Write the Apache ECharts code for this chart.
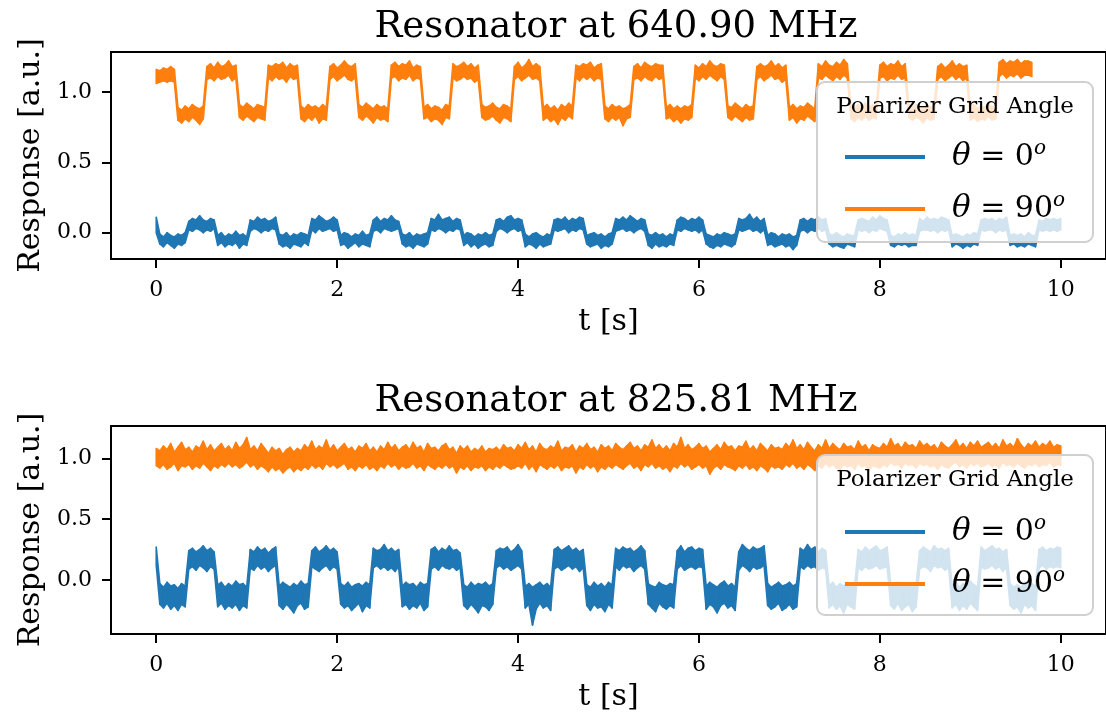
<!DOCTYPE html>
<html>
<head>
<meta charset="utf-8">
<script src="https://cdn.jsdelivr.net/npm/echarts@6/dist/echarts.min.js"></script>
<style>
  html, body { margin: 0; padding: 0; background: #fff; }
  #chart { width: 1106px; height: 723px; }
</style>
</head>
<body>
<div id="chart"></div>
<script>
// sample spacing of the recordings [s]
const DT = 0.04;

const xTicks = [0, 2, 4, 6, 8, 10];
const yTicks = [0, 0.5, 1.0];

const seriesNames = ['θ = 0°', 'θ = 90°'];

// each trace is noisy, so it is kept as the lower / upper edge of its band per sample

// Resonator at 640.90 MHz, theta = 0
const blue640Lo = [
  0.00,
  -0.08, -0.10, -0.07, -0.09, -0.11, -0.08, -0.09, -0.07,
  0.02, 0.01, 0.03, 0.02, 0.00, 0.02, 0.01, 0.03,
  -0.09, -0.07, -0.10, -0.08, -0.09, -0.07, -0.11, -0.08, -0.09,
  0.01, 0.03, 0.02, 0.00, 0.02, 0.01, 0.03, 0.02,
  -0.08, -0.10, -0.09, -0.11, -0.08, -0.09, -0.10, -0.07, -0.09,
  0.02, 0.00, 0.03, 0.01, 0.02, 0.03, 0.01, 0.02,
  -0.09, -0.08, -0.11, -0.09, -0.07, -0.10, -0.08, -0.09, -0.10,
  0.01, 0.02, 0.00, 0.03, 0.02, 0.01, 0.02, 0.03,
  -0.08, -0.10, -0.09, -0.11, -0.08, -0.09, -0.10, -0.08,
  0.02, 0.01, 0.03, 0.02, 0.00, 0.02, 0.01, 0.03, 0.02,
  -0.09, -0.07, -0.10, -0.08, -0.11, -0.09, -0.08, -0.10, -0.09,
  0.01, 0.03, 0.02, 0.00, 0.02, 0.03, 0.01, 0.02,
  -0.10, -0.08, -0.09, -0.11, -0.08, -0.10, -0.09, -0.08,
  0.02, 0.01, 0.02, 0.03, 0.00, 0.02, 0.01, 0.03, 0.02,
  -0.08, -0.10, -0.09, -0.08, -0.11, -0.09, -0.10, -0.08,
  0.01, 0.02, 0.03, 0.01, 0.02, 0.00, 0.02, 0.03, 0.01,
  -0.09, -0.11, -0.08, -0.10, -0.09, -0.10, -0.08, -0.09,
  0.02, 0.01, 0.03, 0.02, 0.01, 0.02, 0.00, 0.02,
  -0.08, -0.10, -0.11, -0.09, -0.10, -0.08, -0.09, -0.10, -0.08,
  0.02, 0.01, 0.02, 0.03, 0.01, 0.02, 0.00, 0.02,
  -0.09, -0.08, -0.10, -0.09, -0.08, -0.10, -0.09, -0.12, -0.09,
  0.01, 0.02, 0.00, 0.02, 0.01, 0.03, 0.01, 0.02,
  -0.08, -0.10, -0.09, -0.10, -0.11, -0.08, -0.09, -0.10,
  0.02, 0.01, 0.02, 0.00, 0.02, 0.01, 0.03, 0.02, 0.01,
  -0.09, -0.10, -0.08, -0.09, -0.08, -0.10, -0.09, -0.09,
  0.01, 0.02, 0.02, 0.01, 0.02, 0.00, 0.02, 0.01, 0.02,
  -0.10, -0.08, -0.09, -0.11, -0.09, -0.10, -0.08, -0.09,
  0.02, 0.01, 0.02, 0.02, 0.00, 0.02, 0.01, 0.02,
  -0.09, -0.08, -0.10, -0.09, -0.10, -0.08, -0.09, -0.10,
  0.02, 0.01, 0.02, 0.01, 0.02, 0.01, 0.02
];
const blue640Hi = [
  0.11,
  -0.01, -0.03, 0.00, -0.02, -0.03, -0.01, -0.02, 0.00,
  0.08, 0.10, 0.09, 0.12, 0.09, 0.08, 0.10, 0.09,
  -0.02, 0.00, -0.03, -0.01, -0.02, 0.01, -0.02, -0.01, -0.03,
  0.09, 0.08, 0.11, 0.09, 0.10, 0.08, 0.09, 0.11,
  -0.01, -0.02, 0.00, -0.03, -0.01, -0.02, 0.00, -0.01, -0.02,
  0.10, 0.09, 0.12, 0.10, 0.08, 0.09, 0.11, 0.09,
  -0.02, 0.00, -0.01, -0.03, -0.01, -0.02, 0.01, -0.02, -0.01,
  0.09, 0.11, 0.08, 0.10, 0.09, 0.12, 0.09, 0.08,
  -0.01, -0.02, 0.00, -0.03, -0.01, -0.02, -0.01, 0.00,
  0.10, 0.09, 0.13, 0.09, 0.10, 0.11, 0.08, 0.10, 0.09,
  -0.02, 0.00, -0.01, -0.03, -0.01, -0.02, 0.00, -0.02, -0.01,
  0.09, 0.10, 0.08, 0.11, 0.12, 0.09, 0.10, 0.09,
  -0.01, -0.03, -0.01, 0.00, -0.02, -0.03, -0.01, -0.02,
  0.09, 0.10, 0.09, 0.11, 0.08, 0.10, 0.09, 0.11, 0.10,
  -0.02, -0.01, 0.00, -0.02, -0.01, -0.03, -0.01, 0.00,
  0.10, 0.09, 0.11, 0.09, 0.12, 0.10, 0.08, 0.10, 0.09,
  -0.01, -0.02, 0.00, -0.02, -0.01, -0.03, -0.01, -0.02,
  0.09, 0.11, 0.10, 0.08, 0.10, 0.09, 0.11, 0.09,
  -0.01, -0.02, -0.03, -0.01, -0.02, 0.00, -0.01, -0.02, -0.01,
  0.10, 0.09, 0.10, 0.13, 0.09, 0.11, 0.08, 0.10,
  -0.02, 0.00, -0.01, -0.03, -0.01, -0.02, -0.01, -0.03, -0.02,
  0.09, 0.10, 0.08, 0.10, 0.09, 0.11, 0.09, 0.10,
  -0.01, -0.02, 0.00, -0.02, -0.03, -0.01, -0.02, -0.02,
  0.09, 0.10, 0.09, 0.08, 0.11, 0.09, 0.12, 0.10, 0.09,
  -0.02, -0.03, -0.01, -0.02, 0.00, -0.02, -0.01, -0.02,
  0.10, 0.08, 0.11, 0.09, 0.10, 0.09, 0.11, 0.10, 0.09,
  -0.02, -0.01, -0.02, -0.03, -0.01, -0.02, 0.00, -0.01,
  0.09, 0.10, 0.09, 0.10, 0.08, 0.10, 0.09, 0.11,
  -0.02, -0.01, -0.02, -0.01, -0.03, 0.00, -0.02, -0.02,
  0.09, 0.08, 0.10, 0.09, 0.10, 0.09, 0.10
];

// Resonator at 640.90 MHz, theta = 90 (stops a bit before 10 s)
const orange640Lo = [
  1.06, 1.07, 1.08, 1.07, 1.08, 1.07,
  0.80, 0.78, 0.81, 0.79, 0.82, 0.80, 0.77, 0.81,
  1.09, 1.10, 1.08, 1.11, 1.09, 1.10, 1.12, 1.08, 1.10,
  0.82, 0.80, 0.83, 0.81, 0.79, 0.82, 0.81, 0.80,
  1.10, 1.08, 1.11, 1.09, 1.10, 1.07, 1.11, 1.09, 1.10,
  0.81, 0.79, 0.82, 0.80, 0.83, 0.78, 0.81, 0.80,
  1.09, 1.11, 1.08, 1.10, 1.12, 1.09, 1.08, 1.10,
  0.82, 0.80, 0.83, 0.81, 0.78, 0.82, 0.80, 0.81, 0.79,
  1.10, 1.11, 1.08, 1.10, 1.09, 1.12, 1.08, 1.10, 1.09,
  0.81, 0.82, 0.79, 0.81, 0.80, 0.77, 0.82, 0.81,
  1.10, 1.08, 1.09, 1.11, 1.09, 1.10, 1.07, 1.09,
  0.82, 0.80, 0.81, 0.83, 0.80, 0.78, 0.82, 0.81, 0.79,
  1.09, 1.11, 1.08, 1.10, 1.12, 1.09, 1.10, 1.08,
  0.80, 0.82, 0.79, 0.81, 0.77, 0.82, 0.80, 0.83, 0.81,
  1.10, 1.08, 1.11, 1.09, 1.11, 1.08, 1.10, 1.09,
  0.81, 0.79, 0.82, 0.80, 0.82, 0.76, 0.81, 0.82,
  1.09, 1.10, 1.08, 1.11, 1.09, 1.08, 1.11, 1.09, 1.10,
  0.81, 0.82, 0.79, 0.81, 0.78, 0.81, 0.80, 0.82,
  1.10, 1.08, 1.11, 1.09, 1.12, 1.10, 1.08, 1.11, 1.09,
  0.82, 0.80, 0.83, 0.81, 0.79, 0.82, 0.80, 0.81,
  1.09, 1.11, 1.08, 1.10, 1.12, 1.09, 1.10, 1.07, 1.09,
  0.80, 0.82, 0.78, 0.81, 0.80, 0.83, 0.81, 0.79,
  1.10, 1.09, 1.12, 1.10, 1.08, 1.11, 1.09, 1.12, 1.10,
  0.81, 0.79, 0.82, 0.80, 0.83, 0.80, 0.82, 0.81,
  1.10, 1.11, 1.08, 1.10, 1.09, 1.12, 1.09, 1.10,
  0.82, 0.80, 0.82, 0.81, 0.78, 0.82, 0.80, 0.81,
  1.09, 1.11, 1.08, 1.10, 1.12, 1.09, 1.11, 1.08, 1.10,
  0.80, 0.82, 0.79, 0.81, 0.80, 0.83, 0.80, 0.81,
  1.11, 1.13, 1.10, 1.12, 1.11, 1.13, 1.10, 1.12, 1.12, 1.11
];
const orange640Hi = [
  1.16, 1.15, 1.17, 1.16, 1.18, 1.16,
  0.89, 0.87, 0.90, 0.88, 0.91, 0.89, 0.88, 0.90,
  1.18, 1.20, 1.17, 1.21, 1.18, 1.19, 1.22, 1.18, 1.19,
  0.91, 0.89, 0.92, 0.90, 0.88, 0.91, 0.90, 0.89,
  1.19, 1.18, 1.20, 1.19, 1.21, 1.17, 1.20, 1.18, 1.19,
  0.90, 0.88, 0.91, 0.89, 0.90, 0.88, 0.91, 0.89,
  1.18, 1.20, 1.17, 1.19, 1.22, 1.19, 1.18, 1.20,
  0.91, 0.89, 0.92, 0.90, 0.88, 0.91, 0.89, 0.90, 0.88,
  1.19, 1.21, 1.18, 1.20, 1.19, 1.22, 1.17, 1.19, 1.18,
  0.89, 0.91, 0.88, 0.90, 0.89, 0.87, 0.91, 0.90,
  1.20, 1.18, 1.19, 1.21, 1.18, 1.20, 1.17, 1.19,
  0.91, 0.89, 0.90, 0.92, 0.89, 0.88, 0.91, 0.90, 0.88,
  1.18, 1.21, 1.17, 1.19, 1.23, 1.18, 1.20, 1.18,
  0.89, 0.91, 0.88, 0.90, 0.87, 0.91, 0.89, 0.92, 0.90,
  1.19, 1.18, 1.20, 1.19, 1.21, 1.17, 1.19, 1.20,
  0.90, 0.88, 0.91, 0.89, 0.90, 0.88, 0.89, 0.91,
  1.18, 1.20, 1.17, 1.21, 1.19, 1.18, 1.20, 1.19, 1.19,
  0.89, 0.91, 0.88, 0.90, 0.88, 0.90, 0.89, 0.91,
  1.19, 1.17, 1.20, 1.18, 1.22, 1.19, 1.18, 1.20, 1.19,
  0.90, 0.89, 0.92, 0.90, 0.88, 0.91, 0.89, 0.90,
  1.18, 1.20, 1.18, 1.19, 1.22, 1.18, 1.20, 1.17, 1.19,
  0.89, 0.91, 0.88, 0.90, 0.89, 0.92, 0.90, 0.88,
  1.20, 1.18, 1.22, 1.19, 1.18, 1.21, 1.19, 1.23, 1.20,
  0.90, 0.88, 0.91, 0.89, 0.92, 0.89, 0.91, 0.90,
  1.19, 1.21, 1.18, 1.20, 1.19, 1.22, 1.18, 1.20,
  0.91, 0.89, 0.91, 0.90, 0.88, 0.91, 0.89, 0.90,
  1.18, 1.20, 1.17, 1.19, 1.22, 1.18, 1.20, 1.18, 1.19,
  0.89, 0.91, 0.88, 0.90, 0.89, 0.92, 0.89, 0.90,
  1.21, 1.23, 1.20, 1.22, 1.21, 1.23, 1.20, 1.22, 1.22, 1.21
];

// Resonator at 825.81 MHz, theta = 0
const blue825Lo = [
  0.12,
  -0.20, -0.23, -0.19, -0.24, -0.21, -0.25, -0.20, -0.22,
  0.09, 0.11, 0.08, 0.12, 0.10, 0.07, 0.11, 0.09,
  -0.22, -0.19, -0.24, -0.21, -0.23, -0.20, -0.25, -0.21, -0.23,
  0.10, 0.08, 0.12, 0.09, 0.11, 0.07, 0.10, 0.12,
  -0.21, -0.24, -0.20, -0.23, -0.27, -0.21, -0.19, -0.24, -0.22,
  0.11, 0.09, 0.07, 0.10, 0.12, 0.08, 0.11, 0.09,
  -0.20, -0.23, -0.21, -0.25, -0.22, -0.19, -0.26, -0.21, -0.23,
  0.10, 0.12, 0.09, 0.11, 0.08, 0.10, 0.07, 0.11,
  -0.22, -0.20, -0.24, -0.21, -0.23, -0.19, -0.25, -0.22,
  0.09, 0.11, 0.08, 0.12, 0.10, 0.09, 0.11, 0.08, 0.10,
  -0.21, -0.24, -0.20, -0.23, -0.27, -0.21, -0.22, -0.25, -0.20,
  0.10, 0.12, 0.09, 0.11, 0.08, 0.10, 0.12, 0.09,
  -0.23, -0.20, -0.37, -0.24, -0.19, -0.23, -0.21, -0.25,
  0.09, 0.11, 0.08, 0.10, 0.12, 0.09, 0.11, 0.07, 0.10,
  -0.21, -0.25, -0.20, -0.23, -0.22, -0.26, -0.20, -0.23,
  0.11, 0.08, 0.12, 0.10, 0.11, 0.07, 0.10, 0.12, 0.09,
  -0.20, -0.23, -0.26, -0.19, -0.22, -0.24, -0.21, -0.23,
  0.09, 0.12, 0.08, 0.10, 0.11, 0.09, 0.11, 0.10,
  -0.24, -0.20, -0.22, -0.27, -0.21, -0.19, -0.23, -0.21, -0.25,
  0.08, 0.12, 0.10, 0.07, 0.11, 0.09, 0.10, 0.12,
  -0.21, -0.24, -0.22, -0.19, -0.25, -0.23, -0.20, -0.24, -0.22,
  0.11, 0.09, 0.12, 0.10, 0.11, 0.08, 0.10, 0.09,
  -0.23, -0.20, -0.24, -0.21, -0.27, -0.20, -0.22, -0.24,
  0.10, 0.08, 0.11, 0.09, 0.10, 0.12, 0.09, 0.10, 0.11,
  -0.21, -0.24, -0.19, -0.25, -0.22, -0.20, -0.26, -0.22,
  0.09, 0.11, 0.10, 0.07, 0.12, 0.10, 0.11, 0.08, 0.10,
  -0.23, -0.20, -0.25, -0.21, -0.24, -0.19, -0.22, -0.25,
  0.11, 0.09, 0.10, 0.12, 0.09, 0.11, 0.07, 0.10,
  -0.21, -0.24, -0.22, -0.27, -0.20, -0.23, -0.21, -0.25,
  0.10, 0.12, 0.09, 0.11, 0.10, 0.11, 0.10
];
const blue825Hi = [
  0.27,
  -0.03, -0.06, -0.02, -0.05, -0.04, -0.07, -0.03, -0.05,
  0.24, 0.26, 0.23, 0.25, 0.28, 0.24, 0.26, 0.23,
  -0.04, -0.02, -0.06, -0.03, -0.05, -0.01, -0.04, -0.03, -0.06,
  0.25, 0.23, 0.27, 0.24, 0.26, 0.22, 0.25, 0.27,
  -0.05, -0.02, -0.04, -0.06, -0.03, -0.05, -0.01, -0.04, -0.03,
  0.24, 0.27, 0.23, 0.25, 0.28, 0.24, 0.26, 0.23,
  -0.03, -0.05, -0.02, -0.06, -0.04, -0.03, -0.05, -0.02, -0.04,
  0.26, 0.24, 0.25, 0.29, 0.24, 0.26, 0.23, 0.25,
  -0.05, -0.02, -0.04, -0.03, -0.06, -0.02, -0.04, -0.03,
  0.25, 0.27, 0.23, 0.26, 0.24, 0.28, 0.24, 0.25, 0.22,
  -0.04, -0.06, -0.02, -0.05, -0.03, -0.04, -0.02, -0.05, -0.03,
  0.24, 0.26, 0.25, 0.27, 0.23, 0.25, 0.29, 0.24,
  -0.05, -0.03, -0.06, -0.04, -0.02, -0.05, -0.03, -0.06,
  0.25, 0.27, 0.24, 0.26, 0.28, 0.24, 0.26, 0.23, 0.25,
  -0.04, -0.06, -0.02, -0.05, -0.03, -0.06, -0.02, -0.04,
  0.26, 0.24, 0.27, 0.25, 0.26, 0.23, 0.25, 0.28, 0.24,
  -0.03, -0.05, -0.06, -0.02, -0.04, -0.05, -0.03, -0.04,
  0.24, 0.28, 0.23, 0.26, 0.27, 0.24, 0.26, 0.25,
  -0.05, -0.02, -0.04, -0.06, -0.03, -0.01, -0.05, -0.03, -0.06,
  0.23, 0.29, 0.26, 0.24, 0.27, 0.25, 0.26, 0.28,
  -0.03, -0.06, -0.04, -0.02, -0.05, -0.04, -0.02, -0.05, -0.03,
  0.26, 0.24, 0.29, 0.25, 0.27, 0.23, 0.26, 0.24,
  -0.05, -0.02, -0.06, -0.03, -0.05, -0.02, -0.04, -0.05,
  0.25, 0.23, 0.27, 0.24, 0.26, 0.28, 0.24, 0.25, 0.27,
  -0.03, -0.05, -0.02, -0.06, -0.04, -0.03, -0.06, -0.04,
  0.24, 0.27, 0.25, 0.23, 0.28, 0.25, 0.26, 0.24, 0.26,
  -0.05, -0.02, -0.06, -0.03, -0.05, -0.01, -0.04, -0.06,
  0.27, 0.24, 0.26, 0.28, 0.25, 0.26, 0.23, 0.25,
  -0.03, -0.06, -0.04, -0.06, -0.02, -0.05, -0.03, -0.05,
  0.25, 0.27, 0.24, 0.26, 0.25, 0.27, 0.26
];

// Resonator at 825.81 MHz, theta = 90
const orange825Lo = [
  0.94, 0.92, 0.95, 0.91, 0.93, 0.96, 0.90, 0.94, 0.93, 0.95,
  0.91, 0.94, 0.92, 0.96, 0.93, 0.90, 0.94, 0.92, 0.95, 0.93,
  0.96, 0.93, 0.95, 0.92, 0.94, 0.97, 0.93, 0.95, 0.91, 0.94,
  0.92, 0.89, 0.93, 0.90, 0.92, 0.88, 0.91, 0.93, 0.89, 0.92,
  0.90, 0.93, 0.91, 0.95, 0.92, 0.94, 0.91, 0.96, 0.93, 0.95,
  0.92, 0.94, 0.96, 0.91, 0.93, 0.90, 0.94, 0.92, 0.95, 0.91,
  0.93, 0.90, 0.94, 0.92, 0.96, 0.93, 0.95, 0.91, 0.94, 0.92,
  0.93, 0.96, 0.92, 0.94, 0.90, 0.95, 0.93, 0.91, 0.94, 0.92,
  0.95, 0.92, 0.94, 0.88, 0.93, 0.91, 0.94, 0.90, 0.93, 0.92,
  0.94, 0.90, 0.93, 0.91, 0.94, 0.92, 0.95, 0.93, 0.91, 0.92,
  0.94, 0.92, 0.96, 0.91, 0.94, 0.89, 0.95, 0.93, 0.91, 0.94,
  0.92, 0.95, 0.90, 0.93, 0.92, 0.94, 0.88, 0.93, 0.91, 0.95,
  0.92, 0.94, 0.89, 0.93, 0.91, 0.94, 0.92, 0.95, 0.93, 0.91,
  0.94, 0.96, 0.92, 0.94, 0.90, 0.95, 0.93, 0.96, 0.92, 0.94,
  0.91, 0.93, 0.89, 0.94, 0.92, 0.96, 0.93, 0.95, 0.91, 0.93,
  0.95, 0.92, 0.94, 0.87, 0.92, 0.94, 0.91, 0.95, 0.93, 0.92,
  0.90, 0.94, 0.92, 0.95, 0.91, 0.93, 0.90, 0.94, 0.92, 0.89,
  0.94, 0.92, 0.93, 0.91, 0.95, 0.93, 0.96, 0.92, 0.94, 0.91,
  0.95, 0.93, 0.90, 0.94, 0.92, 0.96, 0.93, 0.95, 0.92, 0.91,
  0.95, 0.93, 0.94, 0.91, 0.96, 0.93, 0.94, 0.90, 0.94, 0.93,
  0.92, 0.95, 0.93, 0.97, 0.94, 0.95, 0.92, 0.96, 0.94, 0.95,
  0.92, 0.96, 0.94, 0.95, 0.93, 0.94, 0.91, 0.95, 0.93, 0.92,
  0.95, 0.97, 0.93, 0.95, 0.92, 0.96, 0.94, 0.96, 0.93, 0.94,
  0.96, 0.93, 0.95, 0.92, 0.97, 0.94, 0.95, 0.93, 0.96, 0.94,
  0.92, 0.95, 0.94, 0.96, 0.93, 0.95, 0.94, 0.97, 0.93, 0.95,
  0.94
];
const orange825Hi = [
  1.08, 1.06, 1.10, 1.07, 1.12, 1.05, 1.09, 1.13, 1.07, 1.09,
  1.05, 1.10, 1.08, 1.14, 1.07, 1.11, 1.06, 1.09, 1.12, 1.07,
  1.10, 1.06, 1.13, 1.08, 1.11, 1.17, 1.07, 1.10, 1.06, 1.12,
  1.08, 1.04, 1.09, 1.06, 1.08, 1.03, 1.07, 1.09, 1.05, 1.08,
  1.06, 1.11, 1.08, 1.14, 1.07, 1.10, 1.08, 1.15, 1.07, 1.11,
  1.06, 1.09, 1.12, 1.07, 1.09, 1.05, 1.10, 1.08, 1.12, 1.06,
  1.09, 1.05, 1.10, 1.07, 1.13, 1.08, 1.11, 1.06, 1.09, 1.11,
  1.07, 1.13, 1.08, 1.10, 1.05, 1.12, 1.08, 1.09, 1.06, 1.10,
  1.12, 1.07, 1.09, 1.04, 1.10, 1.07, 1.10, 1.05, 1.08, 1.06,
  1.10, 1.05, 1.08, 1.07, 1.09, 1.06, 1.11, 1.08, 1.09, 1.06,
  1.11, 1.08, 1.13, 1.07, 1.10, 1.05, 1.12, 1.08, 1.07, 1.10,
  1.08, 1.14, 1.06, 1.09, 1.08, 1.11, 1.05, 1.10, 1.08, 1.12,
  1.07, 1.09, 1.05, 1.11, 1.08, 1.10, 1.06, 1.12, 1.09, 1.07,
  1.10, 1.13, 1.08, 1.10, 1.06, 1.11, 1.09, 1.15, 1.08, 1.11,
  1.07, 1.10, 1.06, 1.12, 1.09, 1.17, 1.08, 1.11, 1.07, 1.09,
  1.12, 1.08, 1.10, 1.05, 1.08, 1.11, 1.07, 1.13, 1.09, 1.10,
  1.06, 1.10, 1.09, 1.14, 1.07, 1.10, 1.06, 1.12, 1.09, 1.06,
  1.11, 1.08, 1.09, 1.07, 1.12, 1.09, 1.15, 1.08, 1.11, 1.07,
  1.13, 1.09, 1.06, 1.11, 1.08, 1.15, 1.08, 1.12, 1.09, 1.07,
  1.12, 1.09, 1.10, 1.07, 1.14, 1.09, 1.11, 1.06, 1.11, 1.09,
  1.08, 1.12, 1.09, 1.16, 1.10, 1.12, 1.08, 1.13, 1.10, 1.11,
  1.08, 1.14, 1.10, 1.12, 1.09, 1.11, 1.07, 1.13, 1.10, 1.08,
  1.11, 1.15, 1.09, 1.12, 1.08, 1.13, 1.10, 1.14, 1.09, 1.11,
  1.13, 1.09, 1.12, 1.08, 1.15, 1.10, 1.12, 1.09, 1.16, 1.11,
  1.08, 1.12, 1.10, 1.14, 1.09, 1.12, 1.10, 1.14, 1.09, 1.11,
  1.10
];

const BLUE = '#1f77b4';
const ORANGE = '#ff7f0e';
const FONT = '"DejaVu Serif", serif';

const chart = echarts.init(document.getElementById('chart'), null, { renderer: 'canvas' });

const makeX = (gridIndex) => ({
  type: 'value',
  gridIndex: gridIndex,
  min: -0.5,
  max: 10.5,
  name: 't [s]',
  nameLocation: 'middle',
  nameGap: 48,
  nameTextStyle: { fontFamily: FONT, fontSize: 30, color: '#000' },
  axisLine: { show: false, onZero: false },
  axisTick: { show: true, inside: false, length: 9, customValues: xTicks, lineStyle: { color: '#000', width: 2 } },
  axisLabel: { customValues: xTicks, margin: 20, fontFamily: FONT, fontSize: 22, color: '#000' },
  splitLine: { show: false }
});

const makeY = (gridIndex, lo, hi) => ({
  type: 'value',
  gridIndex: gridIndex,
  min: lo,
  max: hi,
  name: 'Response [a.u.]',
  nameLocation: 'middle',
  nameGap: 64,
  nameTextStyle: { fontFamily: FONT, fontSize: 30, color: '#000' },
  axisLine: { show: false, onZero: false },
  axisTick: { show: true, inside: false, length: 9, customValues: yTicks, lineStyle: { color: '#000', width: 2 } },
  axisLabel: {
    customValues: yTicks, margin: 19, fontFamily: FONT, fontSize: 22, color: '#000',
    formatter: (v) => v.toFixed(1)
  },
  splitLine: { show: false }
});

const legendRich = {
  th: { fontFamily: FONT, fontStyle: 'italic', fontSize: 31, color: '#000' },
  sup: { fontFamily: FONT, fontStyle: 'italic', fontSize: 20, color: '#000', verticalAlign: 'bottom', padding: [0, 0, 16, 0] }
};

const makeLegend = (top) => ({
  orient: 'vertical',
  left: 840,
  top: top,
  icon: 'rect',
  itemWidth: 80,
  itemHeight: 4,
  itemGap: 16,
  selectedMode: false,
  z: 30,
  data: seriesNames,
  formatter: (name) => name === seriesNames[0] ? '{th|θ} = 0{sup|o}' : '{th|θ} = 90{sup|o}',
  textStyle: { fontFamily: FONT, fontSize: 30, color: '#000', lineHeight: 36, padding: [0, 0, 0, 22], rich: legendRich }
});

const legendBox = (top) => ([
  {
    type: 'rect', z: 20,
    shape: { x: 817, y: top, width: 276, height: 160, r: 8 },
    style: { fill: 'rgba(255,255,255,0.8)', stroke: '#d0d0d0', lineWidth: 2 }
  },
  {
    type: 'text', z: 21,
    x: 955, y: top + 25,
    style: { text: 'Polarizer Grid Angle', fontFamily: FONT, fontSize: 23, fill: '#000', align: 'center', verticalAlign: 'middle' }
  }
]);

// a noisy trace is drawn as the band between its lower and upper edge:
// one quad per pair of neighbouring samples
const bandSeries = (name, lo, hi, color, idx) => {
  const rows = [];
  for (let i = 0; i < lo.length - 1; i++) {
    rows.push([i * DT, lo[i], hi[i], (i + 1) * DT, lo[i + 1], hi[i + 1]]);
  }
  return {
    name: name,
    type: 'custom',
    xAxisIndex: idx,
    yAxisIndex: idx,
    data: rows,
    encode: { x: [0, 3], y: [1, 2, 4, 5] },
    clip: true,
    silent: true,
    itemStyle: { color: color },
    renderItem: (params, api) => {
      const a = api.coord([api.value(0), api.value(1)]);
      const b = api.coord([api.value(3), api.value(4)]);
      const c = api.coord([api.value(3), api.value(5)]);
      const d = api.coord([api.value(0), api.value(2)]);
      return {
        type: 'polygon',
        shape: { points: [a, b, c, d] },
        style: { fill: color, stroke: color, lineWidth: 1.6, lineJoin: 'round' }
      };
    },
    z: 2
  };
};

chart.setOption({
  animation: false,
  backgroundColor: '#fff',
  title: [
    { text: 'Resonator at 640.90 MHz', left: 611, top: 4, textAlign: 'center',
      textStyle: { fontFamily: FONT, fontSize: 37, fontWeight: 'normal', color: '#000' } },
    { text: 'Resonator at 825.81 MHz', left: 611, top: 378, textAlign: 'center',
      textStyle: { fontFamily: FONT, fontSize: 37, fontWeight: 'normal', color: '#000' } }
  ],
  grid: [
    { left: 111, top: 52, width: 1001, height: 207, show: true, borderColor: '#000', borderWidth: 2, backgroundColor: 'transparent' },
    { left: 111, top: 426, width: 1001, height: 208, show: true, borderColor: '#000', borderWidth: 2, backgroundColor: 'transparent' }
  ],
  xAxis: [makeX(0), makeX(1)],
  yAxis: [makeY(0, -0.187, 1.284), makeY(1, -0.444, 1.265)],
  legend: [makeLegend(134), makeLegend(509)],
  graphic: [].concat(legendBox(82), legendBox(455)),
  series: [
    bandSeries(seriesNames[0], blue640Lo, blue640Hi, BLUE, 0),
    bandSeries(seriesNames[1], orange640Lo, orange640Hi, ORANGE, 0),
    bandSeries(seriesNames[0], blue825Lo, blue825Hi, BLUE, 1),
    bandSeries(seriesNames[1], orange825Lo, orange825Hi, ORANGE, 1)
  ]
});
</script>
</body>
</html>
